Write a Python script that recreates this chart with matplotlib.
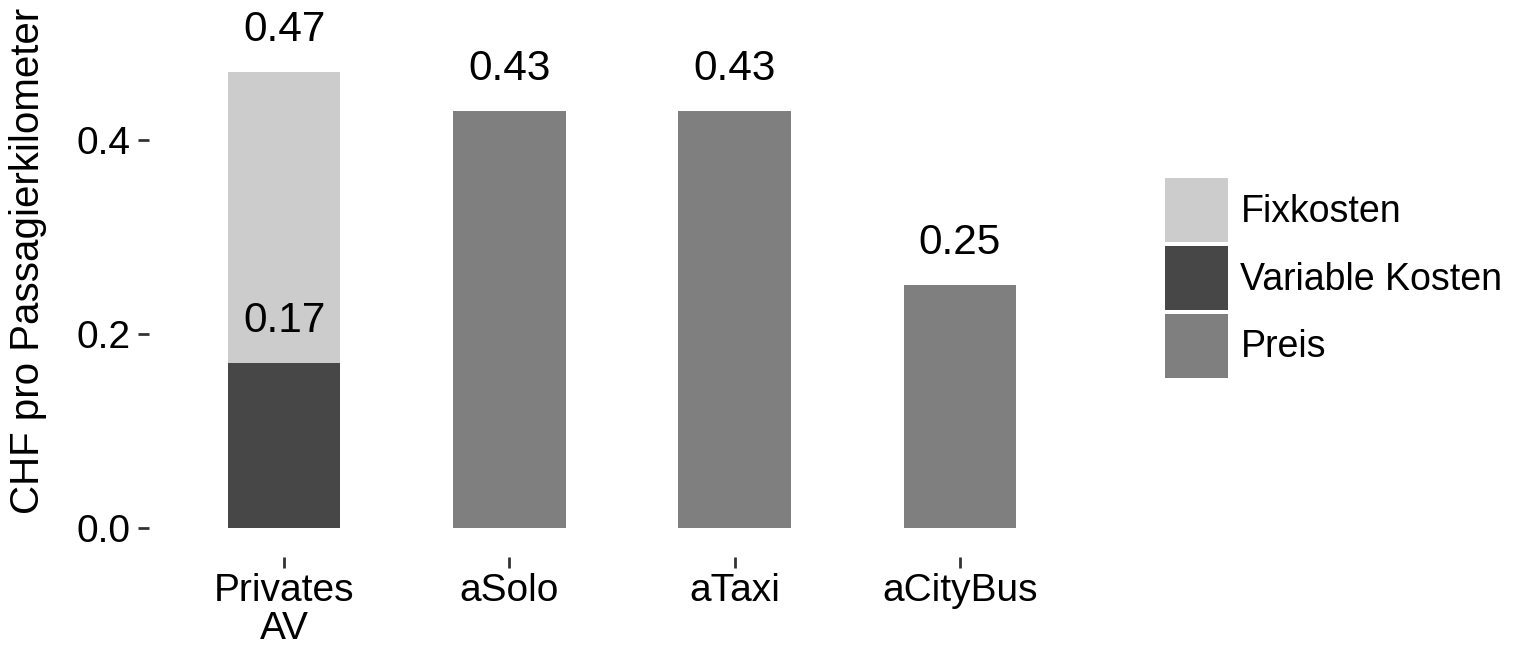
import matplotlib.pyplot as plt
from matplotlib.patches import Patch
import numpy as np

plt.rcParams['font.family'] = ['Liberation Sans', 'DejaVu Sans']

# data
categories = ['Privates\nAV', 'aSolo', 'aTaxi', 'aCityBus']
variable_kosten = [0.17, 0, 0, 0]
fixkosten = [0.30, 0, 0, 0]
preis = [0, 0.43, 0.43, 0.25]
top_labels = ['0.47', '0.43', '0.43', '0.25']
inner_labels = ['0.17', '', '', '']

col_fix = '#cccccc'
col_var = '#474747'
col_preis = '#7f7f7f'

W, H = 1522, 647
fig = plt.figure(figsize=(W / 100, H / 100), dpi=100)
ax = fig.add_axes([149 / W, (H - 557) / H, (1095 - 149) / W, (557 - 43) / H])

x = np.arange(len(categories))
var = np.array(variable_kosten)
fix = np.array(fixkosten)
pr = np.array(preis)

ax.bar(x, var, width=0.5, color=col_var)
ax.bar(x, fix, width=0.5, bottom=var, color=col_fix)
ax.bar(x, pr, width=0.5, color=col_preis)

# value labels above the bars
totals = var + fix + pr
for xi, t, lab in zip(x, totals, top_labels):
    ax.annotate(lab, (xi, t), xytext=(0, 22.5), textcoords='offset points',
                ha='center', va='baseline', fontsize=30.5, annotation_clip=False)
for xi, v, lab in zip(x, var, inner_labels):
    if lab:
        ax.annotate(lab, (xi, v), xytext=(0, 22.5), textcoords='offset points',
                    ha='center', va='baseline', fontsize=30.5)

ax.set_xlim(-0.6, 3.6)
ax.set_ylim(-0.03, 0.5)
ax.set_xticks(x)
ax.set_xticklabels(categories, linespacing=1.08)
ax.set_yticks([0.0, 0.2, 0.4])
ax.set_yticklabels(['0.0', '0.2', '0.4'])
ax.tick_params(axis='both', length=8, width=2, color='#333333', labelsize=28,
               labelcolor='black')
ax.tick_params(axis='x', pad=3.5)
ax.tick_params(axis='y', pad=5)
for s in ax.spines.values():
    s.set_visible(False)
ax.set_ylabel('CHF pro Passagierkilometer', fontsize=29)
ax.yaxis.set_label_coords(-(149 - 47) / (1095 - 149), (557 - 261) / (557 - 43))

handles = [Patch(facecolor=col_fix), Patch(facecolor=col_var), Patch(facecolor=col_preis)]
fig.legend(handles, ['Fixkosten', 'Variable Kosten', 'Preis'],
           loc='center left', bbox_to_anchor=(1165 / W, 1 - 278 / H),
           frameon=False, fontsize=27, handlelength=1.68, handleheight=2.25,
           labelspacing=0.1, handletextpad=0.33, borderpad=0, borderaxespad=0)

fig.savefig('out.png', dpi=100)
